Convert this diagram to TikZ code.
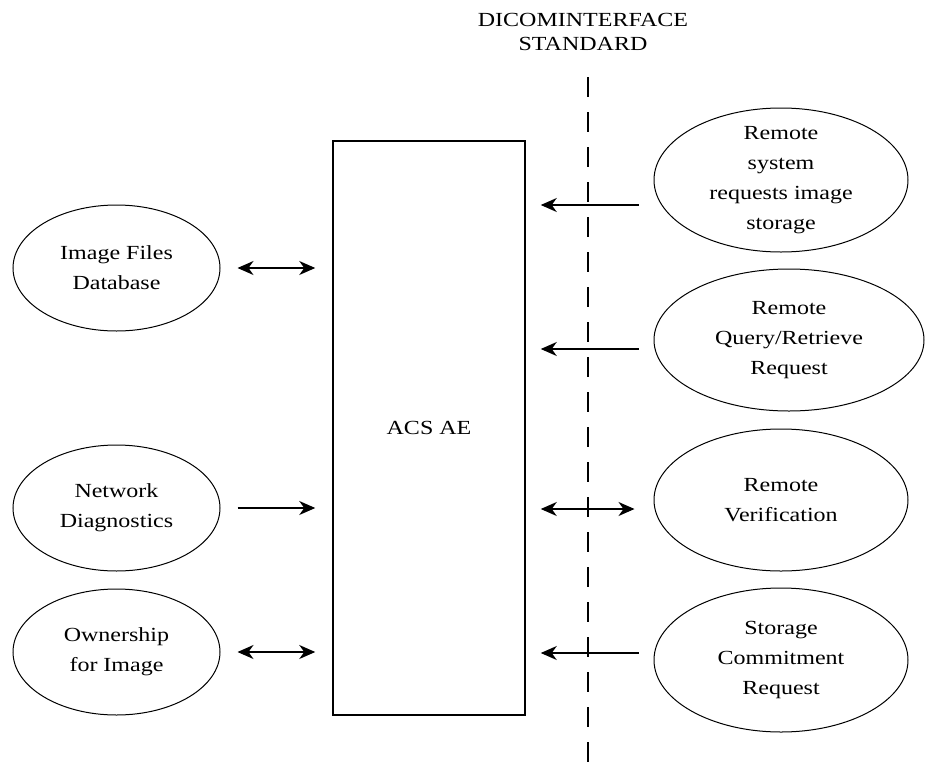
\documentclass[tikz,border=0pt]{standalone}
\usepackage{fontspec}
\setmainfont{Liberation Serif}[FakeStretch=1.2]
\usetikzlibrary{shapes.geometric,arrows.meta,positioning}

\tikzset{
  bubble/.style={draw, ellipse, inner sep=0pt, line width=1pt},
  bubbletext/.style={align=center, inner sep=0pt, font=\fontsize{20}{30}\selectfont},
  flow/.style={line width=1.3pt, -{Stealth[length=16pt,width=14pt,inset=5pt]}},
  dflow/.style={line width=1.3pt, {Stealth[length=16pt,width=14pt,inset=5pt]}-{Stealth[length=16pt,width=14pt,inset=5pt]}},
}

\begin{document}
\begin{tikzpicture}[x=1pt,y=-1pt]
    \useasboundingbox (0,0) rectangle (932,763);

    % The interface title and the boundary line
    \node[align=center, inner sep=0pt, font=\fontsize{20}{24}\selectfont] (title) at (583,32) {DICOMINTERFACE\\STANDARD};
    \coordinate (dtop) at (588,77);
    \coordinate (dbot) at (588,763);
    \draw[line width=1.3pt, dash pattern=on 20pt off 15pt] (dtop) -- (dbot);

    % The application entity box
    \node[draw, line width=1.5pt, minimum width=192pt, minimum height=574pt, inner sep=0pt,
          font=\fontsize{20}{24}\selectfont] (acs) at (429,428) {ACS AE};

    % The local bubbles
    \node[bubble, minimum width=207pt, minimum height=126pt] (imgdb) at (116.5,268) {};
    \node[bubble, minimum width=207pt, minimum height=126pt] (netdiag) at (116.5,508) {};
    \node[bubble, minimum width=207pt, minimum height=126pt] (owner) at (116.5,652) {};
    \node[bubbletext] (imgdbtxt) at (imgdb) {Image Files\\Database};
    \node[bubbletext] (netdiagtxt) at (netdiag) {Network\\Diagnostics};
    \node[bubbletext] (ownertxt) at (owner) {Ownership\\for Image};

    % The remote bubbles
    \node[bubble, minimum width=254pt, minimum height=144pt] (rsys) at (781,180) {};
    \node[bubble, minimum width=270pt, minimum height=142pt] (rqr) at (789,340) {};
    \node[bubble, minimum width=254pt, minimum height=142pt] (rver) at (781,500) {};
    \node[bubble, minimum width=254pt, minimum height=144pt] (stcom) at (781,660) {};
    \node[bubbletext] (rsystxt) at (rsys) {Remote\\system\\requests image\\storage};
    \node[bubbletext] (rqrtxt) at (rqr) {Remote\\Query/Retrieve\\Request};
    \node[bubbletext] (rvertxt) at (rver) {Remote\\Verification};
    \node[bubbletext] (stcomtxt) at (stcom) {Storage\\Commitment\\Request};

    % The local arrows
    \draw[dflow, shorten <=17pt, shorten >=17pt] (imgdb.east) -- (imgdb.east -| acs.west);
    \draw[flow, shorten <=17pt, shorten >=17pt] (netdiag.east) -- (netdiag.east -| acs.west);
    \draw[dflow, shorten <=17pt, shorten >=17pt] (owner.east) -- (owner.east -| acs.west);

    % The remote arrows
    \coordinate (rsysin) at ([yshift=-25pt]rsys.west);
    \coordinate (rqrin) at ([yshift=-9pt]rqr.west);
    \coordinate (rverin) at ([yshift=-9pt]rver.west);
    \coordinate (stcomin) at ([yshift=7pt]stcom.west);
    \draw[flow, shorten <=15pt, shorten >=15pt] (rsysin) -- (rsysin -| acs.east);
    \draw[flow, shorten <=15pt, shorten >=15pt] (rqrin) -- (rqrin -| acs.east);
    \draw[dflow, shorten <=19pt, shorten >=15pt] (rverin) -- (rverin -| acs.east);
    \draw[flow, shorten <=15pt, shorten >=15pt] (stcomin) -- (stcomin -| acs.east);
\end{tikzpicture}
\end{document}
